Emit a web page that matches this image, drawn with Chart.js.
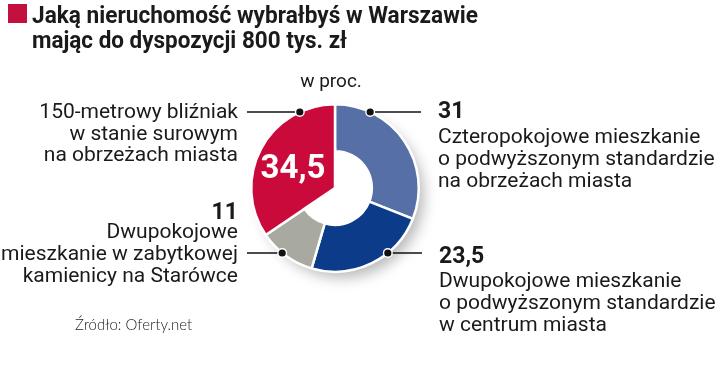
<!DOCTYPE html>
<html>
<head>
<meta charset="utf-8">
<script src="https://cdn.jsdelivr.net/npm/chart.js@4.4.1/dist/chart.umd.min.js"></script>
<style>
  html, body { margin: 0; padding: 0; background: #ffffff; }
  #wrap { width: 720px; height: 391px; position: relative; }
</style>
</head>
<body>
<div id="wrap"><canvas id="c" width="720" height="391"></canvas></div>
<script>
// ---- data ----
const categories = [
  "Czteropokojowe mieszkanie o podwyższonym standardzie na obrzeżach miasta",
  "Dwupokojowe mieszkanie o podwyższonym standardzie w centrum miasta",
  "Dwupokojowe mieszkanie w zabytkowej kamienicy na Starówce",
  "150-metrowy bliźniak w stanie surowym na obrzeżach miasta"
];
const values = [31, 23.5, 11, 34.5];
const valueLabels = ["31", "23,5", "11", "34,5"];
const labelLines = [
  ["Czteropokojowe mieszkanie", "o podwyższonym standardzie", "na obrzeżach miasta"],
  ["Dwupokojowe mieszkanie", "o podwyższonym standardzie", "w centrum miasta"],
  ["Dwupokojowe", "mieszkanie w zabytkowej", "kamienicy na Starówce"],
  ["150-metrowy bliźniak", "w stanie surowym", "na obrzeżach miasta"]
];
const titleLines = ["Jaką nieruchomość wybrałbyś w Warszawie", "mając do dyspozycji 800 tys. zł"];
const unitText = "w proc.";
const sourceText = "Źródło: Oferty.net";
const colors = ["#5670a7", "#0c3c89", "#a9aa9f", "#c90a3b"];
const solidSlice = 3; // the highlighted slice is drawn as a full wedge (no hole)

// ---- layout (annotation positions) ----
const leader = [
  { side: "right", y: 112, end: 421 },
  { side: "right", y: 253, end: 422 },
  { side: "left",  y: 253, end: 247 },
  { side: "left",  y: 112, end: 247 }
];

const FONT = "Roboto, 'Liberation Sans', sans-serif";

const shadowPlugin = {
  id: "shadow",
  beforeDatasetsDraw(chart) {
    const arc = chart.getDatasetMeta(0).data[0];
    if (!arc) return;
    const ctx = chart.ctx;
    ctx.save();
    ctx.shadowColor = "rgba(0,0,0,0.28)";
    ctx.shadowBlur = 14;
    ctx.shadowOffsetX = 7;
    ctx.shadowOffsetY = 8;
    ctx.fillStyle = "#ffffff";
    ctx.beginPath();
    ctx.arc(arc.x, arc.y, arc.outerRadius - 2, 0, Math.PI * 2);
    ctx.fill();
    ctx.restore();
  }
};

const annotPlugin = {
  id: "annot",
  afterDatasetsDraw(chart) {
    const ctx = chart.ctx;
    const meta = chart.getDatasetMeta(0);
    const cx = meta.data[0].x, cy = meta.data[0].y, R = meta.data[0].outerRadius;
    ctx.save();

    // fill the hole part of the highlighted slice (full wedge)
    const a = meta.data[solidSlice];
    const rr = a.innerRadius + 3;
    ctx.fillStyle = colors[solidSlice];
    ctx.beginPath();
    ctx.moveTo(a.x, a.y);
    ctx.arc(a.x, a.y, rr, a.startAngle, a.endAngle);
    ctx.closePath();
    ctx.fill();
    ctx.strokeStyle = "#ffffff";
    ctx.lineWidth = 2.5;
    [a.startAngle, a.endAngle].forEach(ang => {
      ctx.beginPath();
      ctx.moveTo(a.x, a.y);
      ctx.lineTo(a.x + Math.cos(ang) * rr, a.y + Math.sin(ang) * rr);
      ctx.stroke();
    });

    // title
    ctx.fillStyle = "#c4103f";
    ctx.fillRect(8, 4, 19, 19);
    ctx.fillStyle = "#1a1a1a";
    ctx.textBaseline = "alphabetic";
    ctx.textAlign = "left";
    ctx.font = "bold 24px " + FONT;
    ctx.fillText(titleLines[0], 32, 23, 446);
    ctx.fillText(titleLines[1], 32, 48, 315);

    // unit
    ctx.font = "19px " + FONT;
    ctx.textAlign = "center";
    ctx.fillText(unitText, 331, 87);

    // leader lines
    ctx.strokeStyle = "#111";
    ctx.lineWidth = 1.3;
    leader.forEach((L, i) => {
      const dy = L.y - cy;
      const dx = Math.sqrt(Math.max(R * R - dy * dy, 0));
      const x = L.side === "right" ? cx + dx : cx - dx;
      ctx.beginPath();
      ctx.moveTo(x, L.y);
      ctx.lineTo(L.end, L.y);
      ctx.stroke();
      ctx.fillStyle = "#ffffff";
      ctx.beginPath(); ctx.arc(x, L.y, 5, 0, Math.PI * 2); ctx.fill();
      ctx.fillStyle = "#111";
      ctx.beginPath(); ctx.arc(x, L.y, 3.6, 0, Math.PI * 2); ctx.fill();
    });

    // right labels
    ctx.fillStyle = "#1a1a1a";
    ctx.textAlign = "left";
    ctx.font = "bold 23px " + FONT;
    ctx.fillText(valueLabels[0], 438, 118);
    ctx.fillText(valueLabels[1], 439, 263);
    ctx.font = "21px " + FONT;
    const rY0 = [143, 165, 187];
    const rY1 = [287, 309, 331];
    labelLines[0].forEach((t, k) => ctx.fillText(t, 438, rY0[k], 280));
    labelLines[1].forEach((t, k) => ctx.fillText(t, 439, rY1[k], 278));

    // left labels
    ctx.textAlign = "right";
    const lY3 = [118, 140, 161];
    const lY2 = [238, 260, 282];
    labelLines[3].forEach((t, k) => ctx.fillText(t, 238, lY3[k], 205));
    labelLines[2].forEach((t, k) => ctx.fillText(t, 238, lY2[k], 237));
    ctx.font = "bold 23px " + FONT;
    ctx.fillText(valueLabels[2], 238, 219);

    // big value inside red slice
    ctx.fillStyle = "#ffffff";
    ctx.textAlign = "center";
    ctx.font = "bold 33px " + FONT;
    ctx.fillText(valueLabels[3], 293, 178, 72);

    // source
    ctx.fillStyle = "#222";
    ctx.textAlign = "left";
    ctx.font = "300 15px Lato, " + FONT;
    ctx.fillText(sourceText, 75, 330, 123);
    ctx.restore();
  }
};

new Chart(document.getElementById("c"), {
  type: "doughnut",
  data: {
    labels: categories,
    datasets: [{
      data: values,
      backgroundColor: colors,
      borderColor: "#ffffff",
      borderWidth: 2.5,
      hoverOffset: 0
    }]
  },
  options: {
    responsive: false,
    animation: false,
    cutout: "44%",
    layout: { padding: { left: 250, right: 300, top: 103, bottom: 118 } },
    plugins: { legend: { display: false }, tooltip: { enabled: false } },
    events: []
  },
  plugins: [shadowPlugin, annotPlugin]
});
</script>
</body>
</html>
